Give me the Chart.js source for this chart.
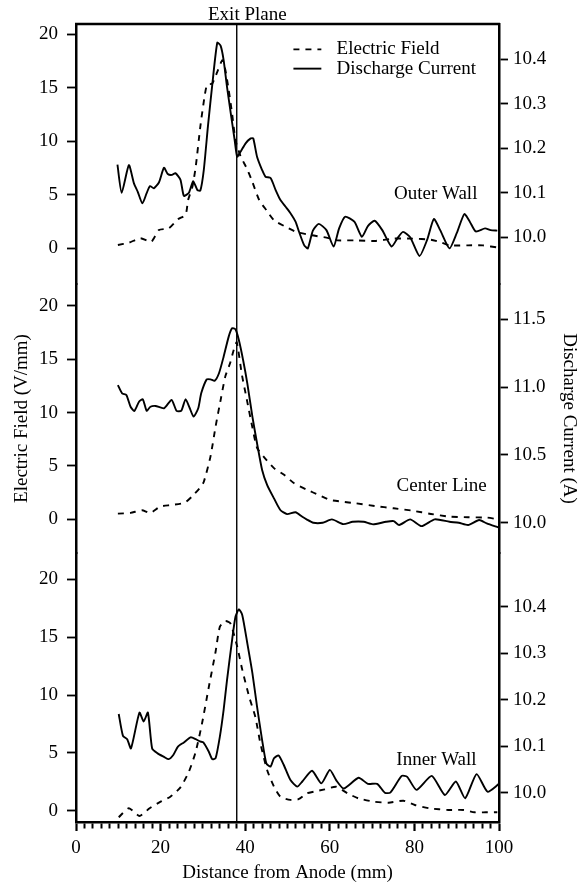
<!DOCTYPE html>
<html>
<head>
<meta charset="utf-8">
<title>Electric field and discharge current vs distance from anode</title>
<script src="https://cdn.jsdelivr.net/npm/chart.js@4.4.1/dist/chart.umd.min.js"></script>
<style>
  html, body { margin: 0; padding: 0; background: #fff; }
  #wrap { width: 586px; height: 884px; }
</style>
</head>
<body>
<div id="wrap"><canvas id="chart" width="586" height="884"></canvas></div>
<script>
// values: distance (mm), field (V/mm), current (A)
const OUTER_E_X = [9.9, 12.5, 15.2, 17.8, 19.6, 21.9, 24.1, 25.9, 26.5, 27.5, 28.3, 29.4, 30.4, 31.0, 32.2, 33.4, 34.6, 35.3, 36.1, 36.9, 37.7, 38.9, 40.2, 41.5, 43.3, 45.1, 46.8, 49.5, 52.1, 55.7, 59.2, 61.8, 66.2, 70.6, 75.0, 79.5, 83.9, 86.5, 88.3, 92.7, 96.2, 99.9];
const OUTER_E = [0.28, 0.5, 0.91, 0.59, 1.69, 1.84, 2.69, 3.1, 4.5, 5.7, 7.6, 11.4, 14.2, 15.3, 15.4, 16.5, 17.6, 16.7, 14.8, 12.6, 10.1, 8.6, 7.6, 6.4, 4.5, 3.5, 2.6, 2.0, 1.5, 1.2, 0.97, 0.72, 0.72, 0.66, 0.88, 0.88, 0.78, 0.5, 0.25, 0.25, 0.25, 0.03];
const OUTER_I_X = [9.8, 10.8, 12.5, 13.7, 14.6, 15.7, 16.7, 17.5, 18.4, 19.6, 20.8, 21.7, 22.7, 23.5, 24.7, 25.5, 26.7, 27.7, 28.7, 29.4, 30.2, 31.2, 32.3, 33.4, 34.2, 34.9, 35.7, 36.7, 37.5, 38.1, 38.9, 40.1, 41.3, 41.9, 42.8, 44.0, 44.8, 46.0, 47.2, 48.3, 49.5, 50.7, 51.9, 52.7, 53.9, 54.8, 56.0, 57.4, 59.2, 60.9, 62.2, 63.6, 65.8, 67.6, 69.0, 70.6, 72.4, 74.6, 76.0, 77.3, 79.0, 81.2, 83.0, 84.6, 86.1, 88.3, 90.0, 91.8, 93.1, 94.5, 96.7, 98.0, 99.6];
const OUTER_I = [10.163, 10.100, 10.162, 10.121, 10.102, 10.076, 10.099, 10.115, 10.110, 10.123, 10.156, 10.142, 10.140, 10.144, 10.129, 10.093, 10.100, 10.126, 10.106, 10.105, 10.150, 10.250, 10.350, 10.437, 10.430, 10.398, 10.338, 10.271, 10.219, 10.181, 10.192, 10.211, 10.222, 10.222, 10.181, 10.151, 10.136, 10.133, 10.106, 10.084, 10.069, 10.054, 10.035, 10.013, 9.983, 9.975, 10.015, 10.030, 10.016, 9.979, 10.020, 10.046, 10.035, 10.001, 10.025, 10.037, 10.016, 9.979, 9.998, 10.012, 10.000, 9.958, 9.994, 10.041, 10.016, 9.975, 10.009, 10.052, 10.035, 10.013, 10.020, 10.016, 10.015];

const CENTER_E_X = [9.9, 12.9, 15.6, 17.6, 19.9, 22.6, 25.7, 27.4, 29.2, 30.2, 31.8, 33.0, 34.2, 35.3, 36.4, 37.3, 38.0, 39.2, 40.4, 41.6, 42.8, 44.3, 46.8, 49.1, 51.5, 54.7, 57.4, 60.1, 62.7, 66.2, 70.6, 75.1, 79.5, 83.9, 88.3, 92.7, 97.1, 99.7];
const CENTER_E = [0.53, 0.6, 0.85, 0.6, 1.19, 1.34, 1.56, 2.13, 2.9, 3.5, 5.9, 8.7, 11.2, 13.4, 14.6, 15.9, 16.6, 13.6, 11.2, 8.8, 6.7, 5.9, 4.8, 4.2, 3.4, 2.75, 2.28, 1.81, 1.66, 1.5, 1.25, 1.03, 0.81, 0.5, 0.25, 0.19, 0.16, 0.0];
const CENTER_I_X = [9.9, 10.9, 11.9, 12.9, 13.8, 14.9, 15.8, 16.7, 17.6, 18.8, 20.8, 22.6, 23.8, 24.9, 25.9, 26.9, 27.8, 28.9, 29.6, 30.9, 31.8, 32.8, 33.8, 34.9, 36.1, 36.9, 37.7, 38.5, 39.5, 40.5, 41.7, 42.8, 44.0, 45.2, 46.8, 48.3, 49.9, 51.9, 53.5, 54.5, 56.1, 58.3, 60.5, 63.2, 65.4, 68.0, 70.2, 73.3, 75.1, 76.4, 79.0, 81.7, 84.8, 88.3, 90.5, 92.7, 95.3, 97.1, 99.8];
const CENTER_I = [11.015, 10.954, 10.942, 10.855, 10.824, 10.892, 10.910, 10.826, 10.855, 10.861, 10.844, 10.905, 10.824, 10.826, 10.910, 10.844, 10.782, 10.844, 10.954, 11.057, 11.057, 11.047, 11.102, 11.224, 11.372, 11.434, 11.426, 11.347, 11.200, 11.028, 10.782, 10.586, 10.389, 10.278, 10.180, 10.094, 10.064, 10.077, 10.044, 10.025, 10.000, 10.000, 10.025, 9.990, 10.007, 10.007, 9.988, 10.007, 10.012, 9.983, 10.025, 9.975, 10.025, 10.007, 10.000, 9.983, 10.020, 9.995, 9.966];

const INNER_E_X = [10.1, 12.5, 15.0, 17.4, 20.0, 22.3, 24.7, 26.7, 28.3, 29.8, 31.4, 33.0, 34.0, 35.3, 36.5, 38.1, 39.3, 40.9, 42.4, 43.6, 45.2, 46.8, 48.3, 50.7, 52.6, 54.6, 56.2, 58.8, 61.5, 64.2, 66.8, 70.4, 73.9, 77.4, 80.1, 83.6, 88.1, 91.6, 94.2, 96.9, 99.6];
const INNER_E = [-0.57, 0.21, -0.46, 0.21, 0.78, 1.21, 2.02, 3.38, 5.1, 7.56, 10.7, 13.75, 15.9, 16.4, 16.2, 14.2, 12.2, 9.9, 8.1, 5.8, 3.5, 2.08, 1.21, 0.93, 0.99, 1.5, 1.64, 1.84, 2.07, 1.5, 1.06, 0.78, 0.69, 0.86, 0.49, 0.2, 0.06, 0.06, -0.14, -0.14, -0.14];
const INNER_I_X = [10.1, 11.1, 12.1, 13.0, 15.0, 16.0, 17.0, 18.0, 19.2, 20.8, 21.9, 23.0, 24.1, 25.5, 27.1, 28.3, 29.3, 30.1, 31.4, 32.2, 33.0, 34.0, 34.9, 35.7, 36.9, 37.7, 38.5, 39.3, 40.5, 41.7, 42.8, 44.0, 45.0, 46.0, 46.8, 47.9, 49.1, 50.7, 52.3, 53.5, 55.8, 58.0, 60.0, 61.5, 63.3, 66.8, 69.0, 71.2, 73.0, 74.3, 77.0, 78.3, 80.5, 84.1, 87.2, 89.8, 92.0, 94.7, 97.3, 100];
const INNER_I = [10.169, 10.122, 10.115, 10.095, 10.172, 10.153, 10.172, 10.095, 10.085, 10.077, 10.072, 10.081, 10.099, 10.108, 10.119, 10.115, 10.110, 10.108, 10.088, 10.072, 10.074, 10.120, 10.178, 10.242, 10.328, 10.378, 10.394, 10.382, 10.321, 10.257, 10.185, 10.113, 10.063, 10.056, 10.074, 10.080, 10.060, 10.027, 10.013, 10.024, 10.047, 10.020, 10.049, 10.027, 10.009, 10.032, 10.019, 10.019, 10.000, 10.000, 10.036, 10.034, 10.006, 10.036, 9.995, 10.024, 9.988, 10.040, 10.002, 10.019];

// axes
const X_TICKS = [0, 2, 4, 6, 8, 10, 12, 14, 16, 18, 20, 22, 24, 26, 28, 30, 32, 34, 36, 38, 40, 42, 44, 46, 48, 50, 52, 54, 56, 58, 60, 62, 64, 66, 68, 70, 72, 74, 76, 78, 80, 82, 84, 86, 88, 90, 92, 94, 96, 98, 100];
const X_LABELS = [0, 20, 40, 60, 80, 100];
const E_TICKS = [0, 5, 10, 15, 20];
const OUTER_I_TICKS = [10.0, 10.1, 10.2, 10.3, 10.4];
const CENTER_I_TICKS = [10.0, 10.5, 11.0, 11.5];
const INNER_I_TICKS = [10.0, 10.1, 10.2, 10.3, 10.4];
const PANEL_NAMES = ["Outer Wall", "Center Line", "Inner Wall"];
const EXIT_PLANE = 38;

// panel windows (so the ticks land where the figure has them)
const E_RANGE = [[-3.37, 20.98], [-3.16, 22.06], [-0.98, 22.29]];
const I_RANGE = [[9.895, 10.479], [9.777, 11.760], [9.937, 10.515]];
const PANEL_H = [260, 269, 269];
const LABEL_AT = [[94.9, 5.1], [97.1, 3.1], [94.7, 4.4]]; // mm, V/mm

const FONT = { family: "'Liberation Serif', 'Times New Roman', serif", size: 19 };
const INK = "#000";

const pts = (xs, ys) => xs.map((x, i) => ({ x, y: ys[i] }));

function yAxis(side, p, range, ticks, title) {
  return {
    type: "linear", position: side, stack: "panels", stackWeight: PANEL_H[p],
    weight: side === "left" ? 3 - p : p + 1,
    min: range[0], max: range[1],
    afterBuildTicks: (s) => { s.ticks = ticks.map((v) => ({ value: v })); },
    afterFit: (s) => { s.width = side === "left" ? 76 : 87; },
    grid: { drawOnChartArea: false, tickLength: 9, tickWidth: 1.8, tickColor: INK },
    border: { display: true, color: INK, width: 2.5 },
    ticks: {
      color: INK, font: FONT, padding: side === "left" ? 9 : 5,
      callback: (v) => side === "left" ? String(v) : Number(v).toFixed(1),
    },
    title: title ? {
      display: true, text: title, color: INK, font: FONT,
      padding: { top: side === "left" ? 11 : 6, bottom: 0 },
    } : { display: false },
  };
}

const ds = (label, data, yId, dashed) => ({
  label, data, xAxisID: "x", yAxisID: yId,
  borderColor: INK, borderWidth: 1.9, borderDash: dashed ? [6, 6] : [],
  pointRadius: 0, tension: 0.2, fill: false,
});

const decor = {
  id: "decor",
  afterDatasetsDraw(chart) {
    const { ctx, chartArea: a, scales } = chart;
    const sx = scales.x;
    ctx.save();
    ctx.strokeStyle = INK; ctx.fillStyle = INK;
    // top frame
    ctx.lineWidth = 2.5;
    ctx.beginPath(); ctx.moveTo(a.left - 1, a.top); ctx.lineTo(a.right + 1, a.top); ctx.stroke();
    // exit plane
    const ex = sx.getPixelForValue(EXIT_PLANE);
    ctx.lineWidth = 1.4;
    ctx.beginPath(); ctx.moveTo(ex, a.top); ctx.lineTo(ex, a.bottom); ctx.stroke();
    ctx.font = `${FONT.size}px ${FONT.family}`;
    ctx.textAlign = "center"; ctx.textBaseline = "middle";
    ctx.fillText("Exit Plane", sx.getPixelForValue(40.5), a.top - 9);
    // panel names
    ctx.textAlign = "right";
    PANEL_NAMES.forEach((n, p) => {
      const [mx, ev] = LABEL_AT[p];
      ctx.fillText(n, sx.getPixelForValue(mx), scales["e" + p].getPixelForValue(ev));
    });
    // legend
    const ye = scales.e0;
    const rows = [["Electric Field", 18.6, [6, 6]], ["Discharge Current", 16.8, []]];
    ctx.textAlign = "left";
    rows.forEach(([t, ev, dash]) => {
      const y = ye.getPixelForValue(ev);
      ctx.setLineDash(dash); ctx.lineWidth = 1.9;
      ctx.beginPath(); ctx.moveTo(sx.getPixelForValue(51.4), y); ctx.lineTo(sx.getPixelForValue(58.0), y); ctx.stroke();
      ctx.setLineDash([]);
      ctx.fillText(t, sx.getPixelForValue(61.6), y);
    });
    ctx.restore();
  },
};

new Chart(document.getElementById("chart"), {
  type: "line",
  data: {
    datasets: [
      ds("Outer E", pts(OUTER_E_X, OUTER_E), "e0", true),
      ds("Outer I", pts(OUTER_I_X, OUTER_I), "i0", false),
      ds("Center E", pts(CENTER_E_X, CENTER_E), "e1", true),
      ds("Center I", pts(CENTER_I_X, CENTER_I), "i1", false),
      ds("Inner E", pts(INNER_E_X, INNER_E), "e2", true),
      ds("Inner I", pts(INNER_I_X, INNER_I), "i2", false),
    ],
  },
  options: {
    responsive: false, animation: false, devicePixelRatio: 1,
    layout: { padding: { top: 24, left: 0, right: 0, bottom: 0 } },
    plugins: { legend: { display: false }, tooltip: { enabled: false }, title: { display: false } },
    scales: {
      x: {
        type: "linear", position: "bottom", min: 0, max: 100,
        afterBuildTicks: (s) => { s.ticks = X_TICKS.map((v) => ({ value: v })); },
        afterFit: (s) => { s.height = 62; },
        grid: {
          drawOnChartArea: false, tickLength: 9, tickColor: INK,
          tickWidth: (c) => X_LABELS.includes(c.tick && c.tick.value) ? 2.2 : 2,
          tickBorderDash: (c) => X_LABELS.includes(c.tick && c.tick.value) ? [] : [5, 30],
        },
        border: { display: true, color: INK, width: 2.5 },
        ticks: {
          autoSkip: false, maxRotation: 0, color: INK, font: FONT, padding: 6,
          callback: (v) => X_LABELS.includes(v) ? String(v) : "",
        },
        title: { display: true, text: "Distance from Anode (mm)", color: INK, font: FONT, padding: { top: 0, bottom: 0 } },
      },
      e0: yAxis("left", 0, E_RANGE[0], E_TICKS),
      e1: yAxis("left", 1, E_RANGE[1], E_TICKS, "Electric Field (V/mm)"),
      e2: yAxis("left", 2, E_RANGE[2], E_TICKS),
      i0: yAxis("right", 0, I_RANGE[0], OUTER_I_TICKS),
      i1: yAxis("right", 1, I_RANGE[1], CENTER_I_TICKS, "Discharge Current (A)"),
      i2: yAxis("right", 2, I_RANGE[2], INNER_I_TICKS),
    },
  },
  plugins: [decor],
});
</script>
</body>
</html>
